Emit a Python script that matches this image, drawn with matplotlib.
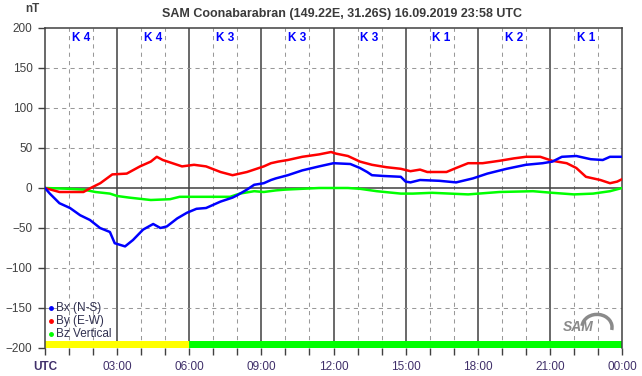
import matplotlib
matplotlib.use('Agg')
import matplotlib.pyplot as plt
from matplotlib.patches import Arc

plt.rcParams['font.family'] = ['Liberation Sans', 'DejaVu Sans']

# data (hours UTC, nT)
bx_t = [0, 0.2, 0.6, 1.04, 1.46, 1.87, 2.29, 2.7, 2.9, 3.33, 3.66, 4.08, 4.5, 4.8, 5.07, 5.5,
        5.9, 6.3, 6.7, 7.3, 7.8, 8.0, 8.4, 8.7, 9.1, 9.4, 9.6, 10.1, 10.7, 11.4, 12.0, 12.7,
        13.1, 13.4, 13.6, 14.1, 14.8, 15.0, 15.2, 15.6, 16.4, 17.1, 17.8, 18.4, 19.2, 20.0,
        20.7, 21.1, 21.5, 22.1, 22.7, 23.2, 23.5, 24.0]
bx = [0, -7, -19, -25, -34, -40, -50, -55, -69, -73, -65, -52, -45, -50, -48, -38,
      -31, -26, -25, -17, -12, -9, -2, 4, 6, 10, 12, 16, 22, 27, 31, 30,
      25, 20, 16, 15, 14, 8, 7, 10, 9, 7, 12, 18, 24, 29,
      31, 33, 39, 40, 36, 35, 39, 39]

by_t = [0, 0.6, 1.6, 1.9, 2.3, 2.8, 3.4, 3.95, 4.4, 4.65, 4.9, 5.3, 5.7, 6.2, 6.7, 7.3,
        7.8, 8.4, 8.7, 9.1, 9.4, 9.7, 10.1, 10.7, 11.4, 11.9, 12.1, 12.6, 13.1, 13.6, 14.2,
        14.8, 15.2, 15.6, 15.9, 16.7, 17.1, 17.6, 18.2, 18.9, 19.5, 20.0, 20.6, 21.1,
        21.7, 22.1, 22.5, 23.1, 23.5, 23.8, 24.0]
by = [0, -5, -5, 0, 6, 17, 18, 27, 33, 39, 35, 31, 27, 29, 27, 20,
      16, 20, 23, 27, 31, 33, 35, 39, 42, 45, 43, 40, 33, 29, 26,
      24, 21, 23, 20, 20, 25, 31, 31, 34, 37, 39, 39, 34,
      31, 25, 14, 10, 6, 8, 11]

bz_t = [0, 1.0, 1.6, 2.1, 2.7, 3.0, 3.5, 4.4, 5.2, 5.6, 6.6, 7.7, 8.1, 8.7, 9.1, 9.6,
        10.0, 11.4, 12.6, 13.1, 13.8, 14.8, 15.3, 16.1, 17.6, 18.9, 20.3, 21.1, 22.0,
        22.8, 23.5, 24.0]
bz = [0, -1, -2, -5, -7, -10, -12, -15, -14, -11, -11, -11, -7, -4, -5, -3,
      -2, 0, 0, -1, -4, -7, -7, -6, -8, -5, -4, -6, -8,
      -7, -4, 0]

k_index = [4, 4, 3, 3, 3, 1, 2, 1]
xtick_labels = ['UTC', '03:00', '06:00', '09:00', '12:00', '15:00', '18:00', '21:00', '00:00']
bar_spans = [(0, 6, '#ffff00'), (6, 24, '#00ff00')]

fig = plt.figure(figsize=(6.42, 3.76), dpi=100)
ax = fig.add_axes([45 / 642, 28 / 376, 577 / 642, 320 / 376])
ax.set_xlim(0, 24)
ax.set_ylim(-200, 200)

# grid
for h in range(1, 24):
    if h % 3:
        ax.axvline(h, color='#999999', lw=0.75, ls=(0, (4, 4)), zorder=1)
    else:
        ax.axvline(h, color='#404040', lw=1.1, zorder=1)
for v in [-150, -100, -50, 50, 100, 150]:
    ax.axhline(v, color='#999999', lw=0.75, ls=(0, (4, 4)), zorder=1)
ax.axhline(0, color='#404040', lw=1.1, zorder=1)

# status bar
for a, b, c in bar_spans:
    ax.fill_between([a, b], -200, -191, color=c, lw=0, zorder=2)

ax.plot(bz_t, bz, color='#00ff00', lw=1.8, zorder=3)
ax.plot(by_t, by, color='#ff0000', lw=1.8, zorder=4)
ax.plot(bx_t, bx, color='#0000ff', lw=1.8, zorder=5)

# K index labels
for i, k in enumerate(k_index):
    ax.text(3 * i + 1.5, 188, 'K %d' % k, color='#0000ff', fontsize=8.5,
            fontweight='bold', ha='center', va='center', zorder=6)

ax.set_xticks(range(0, 25, 3))
ax.set_xticks(range(0, 25), minor=True)
ax.set_xticklabels(xtick_labels)
ax.set_yticks(range(-200, 201, 50))
ax.tick_params(axis='x', which='both', length=5, width=1, color='#404040',
               labelsize=8.5, labelcolor='#40306a', pad=4)
ax.tick_params(axis='y', length=5, width=1, color='#404040', labelsize=8.5,
               labelcolor='#404040', pad=4)
ax.get_xticklabels()[0].set_fontweight('bold')
for s in ax.spines.values():
    s.set_color('#404040')
    s.set_linewidth(1.1)
ax.spines['bottom'].set_visible(False)

# legend
leg_names = ['Bx (N-S)', 'By (E-W)', 'Bz Vertical']
leg_cols = ['#0000ff', '#ff0000', '#00ff00']
for i, (n, c) in enumerate(zip(leg_names, leg_cols)):
    y = -150 - 16 * i
    ax.plot([0.25], [y], 'o', ms=2.5, color=c, zorder=6)
    ax.text(0.45, y, n, fontsize=8.5, color='#303050', va='center', zorder=6)

# logo
ax.text(22.17, -174, 'SAM', fontsize=10, style='italic', color='#8a8a8a',
        fontweight='bold', ha='center', va='center', zorder=6)
ax.add_patch(Arc((22.96, -174), 1.25, 32, theta1=-80, theta2=110, color='#8a8a8a',
                 lw=2.5, zorder=6))

fig.text(342 / 642, 1 - 14 / 376, 'SAM Coonabarabran (149.22E, 31.26S) 16.09.2019 23:58 UTC',
         fontsize=9, fontweight='bold', color='#3a3a3a', ha='center', va='center')
fig.text(32 / 642, 1 - 9 / 376, 'nT', fontsize=8.5, fontweight='bold', color='#404040',
         ha='center', va='center')

fig.savefig('out.png', dpi=100)
